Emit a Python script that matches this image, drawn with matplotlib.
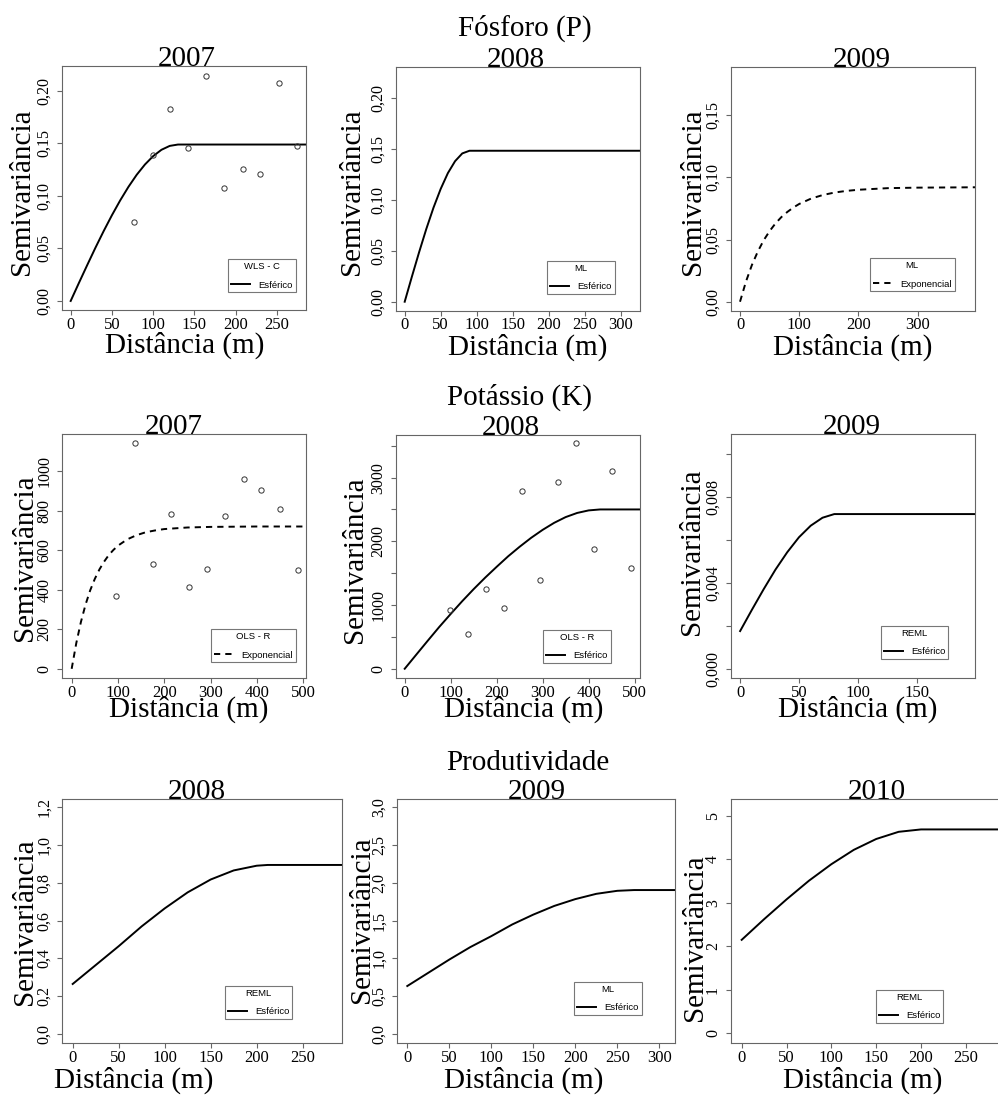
import matplotlib
matplotlib.use('Agg')
import matplotlib.pyplot as plt

plt.rcParams['font.family'] = ['Liberation Serif', 'DejaVu Serif']

W, H = 998, 1095

# ---- Fósforo (P) ----
fos07_h = [0, 10, 20, 30, 40, 50, 60, 70, 80, 90, 100, 110, 120, 130, 300]
fos07_g = [0, .0172, .0341, .0507, .0666, .0817, .0958, .1087, .1202, .1300,
           .1380, .1440, .1477, .149, .149]
fos07_pts_x = [76.7, 99.4, 120.4, 142.6, 164.4, 186.2, 208.4, 229.8, 252.0, 273.8]
fos07_pts_y = [.0756, .139, .183, .146, .2146, .1073, .126, .121, .2076, .148]

fos08_h = [0, 10, 20, 30, 40, 50, 60, 70, 80, 90, 340]
fos08_g = [0, .0246, .0485, .0713, .0922, .1106, .1261, .1378, .1454, .148, .148]

fos09_h = [0, 10, 20, 30, 40, 50, 60, 70, 80, 90, 100, 120, 140, 160, 180,
           200, 250, 300, 400]
fos09_g = [0, .0161, .0294, .0403, .0494, .0568, .0630, .0681, .0722, .0757,
           .0786, .0829, .0858, .0878, .0891, .0900, .0913, .0917, .0920]

# ---- Potássio (K) ----
pot07_h = [0, 10, 20, 30, 40, 50, 60, 70, 80, 90, 100, 120, 140, 160, 180,
           200, 250, 300, 400, 520]
pot07_g = [0, 130, 237, 325, 397, 455, 503, 542, 575, 601, 623, 655, 676, 691,
           700, 707, 715, 718, 720, 720]
pot07_pts_x = [96.1, 135.8, 175.6, 213.9, 253.6, 291.9, 331.6, 371.4, 409.7, 449.4, 489.2]
pot07_pts_y = [366, 1142, 529, 781, 412, 505, 771, 961, 907, 808, 502]

pot08_h = [0, 25, 50, 75, 100, 125, 150, 175, 200, 225, 250, 275, 300, 325,
           350, 375, 400, 425, 520]
pot08_g = [0, 220, 439, 655, 860, 1060, 1250, 1430, 1600, 1765, 1915, 2055,
           2180, 2290, 2380, 2445, 2485, 2500, 2500]
pot08_pts_x = [97.8, 137.7, 177.5, 216.0, 255.0, 294.2, 334.0, 373.2, 412.3, 451.4, 491.3]
pot08_pts_y = [921, 553, 1258, 958, 2784, 1400, 2937, 3547, 1874, 3111, 1579]

pot09_h = [0, 10, 20, 30, 40, 50, 60, 70, 80, 210]
pot09_g = [.00175, .00274, .00370, .00461, .00542, .00612, .00666, .00703,
           .00720, .00720]

# ---- Produtividade ----
prod08_h = [0, 25, 50, 75, 100, 125, 150, 175, 200, 212, 300]
prod08_g = [.265, .365, .465, .57, .665, .75, .818, .866, .891, .895, .895]

prod09_h = [0, 25, 50, 75, 100, 125, 150, 175, 200, 225, 250, 270, 330]
prod09_g = [.635, .81, .985, 1.15, 1.295, 1.45, 1.58, 1.695, 1.785, 1.855,
            1.895, 1.905, 1.905]

prod10_h = [0, 25, 50, 75, 100, 125, 150, 175, 200, 320]
prod10_g = [2.15, 2.625, 3.08, 3.51, 3.89, 4.22, 4.47, 4.635, 4.69, 4.69]

group_titles = ['Fósforo (P)', 'Potássio (K)', 'Produtividade']


def brl(v, nd):
    return f'{v:.{nd}f}'.replace('.', ',')


# panel specs: data, model text, axis setup, and placement (pixels)
panels = [
    dict(h=fos07_h, g=fos07_g, px=fos07_pts_x, py=fos07_pts_y, year='2007',
         method='WLS - C', model='Esférico', ls='-',
         xlim=(-10.5, 285.1), ylim=(-0.0086, 0.2238),
         xt=range(0, 251, 50), yt=[0, .05, .10, .15, .20], ylab_nd=2, yskip=1,
         box=(62, 306, 66, 310), yearx=187, leg=(228.3, 259.3),
         ylx=(22.3, 191.7), xlx=(185, 353)),
    dict(h=fos08_h, g=fos08_g, px=None, py=None, year='2008',
         method='ML', model='Esférico', ls='-',
         xlim=(-12.5, 326.9), ylim=(-0.0088, 0.2304),
         xt=range(0, 301, 50), yt=[0, .05, .10, .15, .20], ylab_nd=2, yskip=1,
         box=(395.7, 640, 66.7, 310.7), yearx=516.3, leg=(547.3, 261),
         ylx=(351.7, 191.7), xlx=(527.5, 354.5)),
    dict(h=fos09_h, g=fos09_g, px=None, py=None, year='2009',
         method='ML', model='Exponencial', ls='--',
         xlim=(-15.2, 396.8), ylim=(-0.0072, 0.1889),
         xt=range(0, 301, 100), yt=[0, .05, .10, .15], ylab_nd=2, yskip=1,
         box=(731, 975, 66.7, 310.7), yearx=861.7, leg=(870, 258.3),
         ylx=(692.5, 191.7), xlx=(852.5, 354.5)),
    dict(h=pot07_h, g=pot07_g, px=pot07_pts_x, py=pot07_pts_y, year='2007',
         method='OLS - R', model='Exponencial', ls='--',
         xlim=(-20.2, 506), ylim=(-48, 1188),
         xt=range(0, 501, 100), yt=list(range(0, 1001, 200)), ylab_nd=None, yskip=1,
         box=(62.3, 306, 434, 678.3), yearx=173.3, leg=(211, 629.3),
         ylx=(25, 557.5), xlx=(188.3, 716.5)),
    dict(h=pot08_h, g=pot08_g, px=pot08_pts_x, py=pot08_pts_y, year='2008',
         method='OLS - R', model='Esférico', ls='-',
         xlim=(-18.3, 511), ylim=(-150, 3673),
         xt=range(0, 501, 100), yt=list(range(0, 3501, 500)), ylab_nd=None, yskip=2,
         box=(396.3, 639.7, 434.7, 678.3), yearx=510.5, leg=(543.3, 630),
         ylx=(355, 560), xlx=(523.3, 716.5)),
    dict(h=pot09_h, g=pot09_g, px=None, py=None, year='2009',
         method='REML', model='Esférico', ls='-',
         xlim=(-8.0, 199.3), ylim=(-0.00045, 0.01093),
         xt=range(0, 151, 50), yt=[0, .002, .004, .006, .008, .010], ylab_nd=3, yskip=2,
         box=(730.7, 974.7, 434, 678.3), yearx=852, leg=(881, 625.7),
         ylx=(691.7, 551.7), xlx=(857.5, 716.5)),
    dict(h=prod08_h, g=prod08_g, px=None, py=None, year='2008',
         method='REML', model='Esférico', ls='-',
         xlim=(-11.3, 292.4), ylim=(-0.049, 1.2425),
         xt=range(0, 251, 50), yt=[0, .2, .4, .6, .8, 1.0, 1.2], ylab_nd=1, yskip=1,
         box=(62.3, 341.7, 799.3, 1043.3), yearx=197.2, leg=(225, 986),
         ylx=(25, 921.7), xlx=(133.8, 1088)),
    dict(h=prod09_h, g=prod09_g, px=None, py=None, year='2009',
         method='ML', model='Esférico', ls='-',
         xlim=(-12.6, 318.7), ylim=(-0.123, 3.106),
         xt=range(0, 301, 50), yt=[0, .5, 1.0, 1.5, 2.0, 2.5, 3.0], ylab_nd=1, yskip=1,
         box=(396.7, 675, 799.3, 1043.3), yearx=536.7, leg=(574.3, 981.7),
         ylx=(361.7, 920), xlx=(524, 1088)),
    dict(h=prod10_h, g=prod10_g, px=None, py=None, year='2010',
         method='REML', model='Esférico', ls='-',
         xlim=(-11.9, 310), ylim=(-0.23, 5.383),
         xt=range(0, 251, 50), yt=[0, 1, 2, 3, 4, 5], ylab_nd=None, yskip=1,
         box=(731, 1019.7, 799.3, 1043.3), yearx=877.2, leg=(876, 990),
         ylx=(695, 938), xlx=(862.5, 1088)),
]

group_pos = [(524.7, 36), (519.2, 405), (527.5, 770)]

BIG = 21
XTICK = 12
YTICK = 11.5
EDGE = '#666666'

fig = plt.figure(figsize=(W / 100, H / 100), dpi=100)
fig.patch.set_facecolor('white')

for p in panels:
    L, R, T, B = p['box']
    ax = fig.add_axes([L / W, 1 - B / H, (R - L) / W, (B - T) / H])
    dashes = (0, (3.2, 2.6)) if p['ls'] == '--' else '-'
    line, = ax.plot(p['h'], p['g'], color='black', lw=1.4, linestyle=dashes)
    if p['px'] is not None:
        ax.plot(p['px'], p['py'], linestyle='none', marker='o', ms=3.8,
                mfc='none', mec='#333333', mew=0.7)
    ax.set_xlim(*p['xlim'])
    ax.set_ylim(*p['ylim'])
    ax.set_xticks(list(p['xt']), [str(v) for v in p['xt']], fontsize=XTICK)
    ylabels = []
    for i, v in enumerate(p['yt']):
        if i % p['yskip']:
            ylabels.append('')
        elif p['ylab_nd'] is None:
            ylabels.append(str(int(v)))
        else:
            ylabels.append(brl(v, p['ylab_nd']))
    ax.set_yticks(p['yt'], ylabels, fontsize=YTICK, rotation=90, va='center')
    ax.tick_params(axis='both', direction='out', length=3.5, width=0.8, color=EDGE)
    ax.tick_params(axis='x', pad=1.3)
    ax.tick_params(axis='y', pad=3.6)
    for s in ax.spines.values():
        s.set_color(EDGE)
        s.set_linewidth(0.8)

    leg = ax.legend([line], [p['model']], title=p['method'], loc='upper left',
                    bbox_to_anchor=(p['leg'][0] / W, 1 - p['leg'][1] / H),
                    bbox_transform=fig.transFigure,
                    prop=dict(family='Liberation Sans', size=6.8),
                    title_fontproperties=dict(family='Liberation Sans', size=6.8),
                    fancybox=False, framealpha=1, edgecolor='#777777',
                    borderpad=0.3, labelspacing=1.0, handlelength=2.0,
                    handletextpad=0.9, borderaxespad=0)
    leg.get_frame().set_linewidth(0.8)

    fig.text(p['yearx'] / W, 1 - T / H, p['year'], ha='center', va='baseline',
             fontsize=BIG)
    fig.text(p['ylx'][0] / W, 1 - p['ylx'][1] / H, 'Semivariância', rotation=90,
             ha='center', va='center', fontsize=BIG)
    fig.text(p['xlx'][0] / W, 1 - p['xlx'][1] / H, 'Distância (m)', ha='center',
             va='baseline', fontsize=BIG)

for title, (gx, gy) in zip(group_titles, group_pos):
    fig.text(gx / W, 1 - gy / H, title, ha='center', va='baseline', fontsize=BIG)

fig.savefig('out.png', dpi=100, facecolor='white')
